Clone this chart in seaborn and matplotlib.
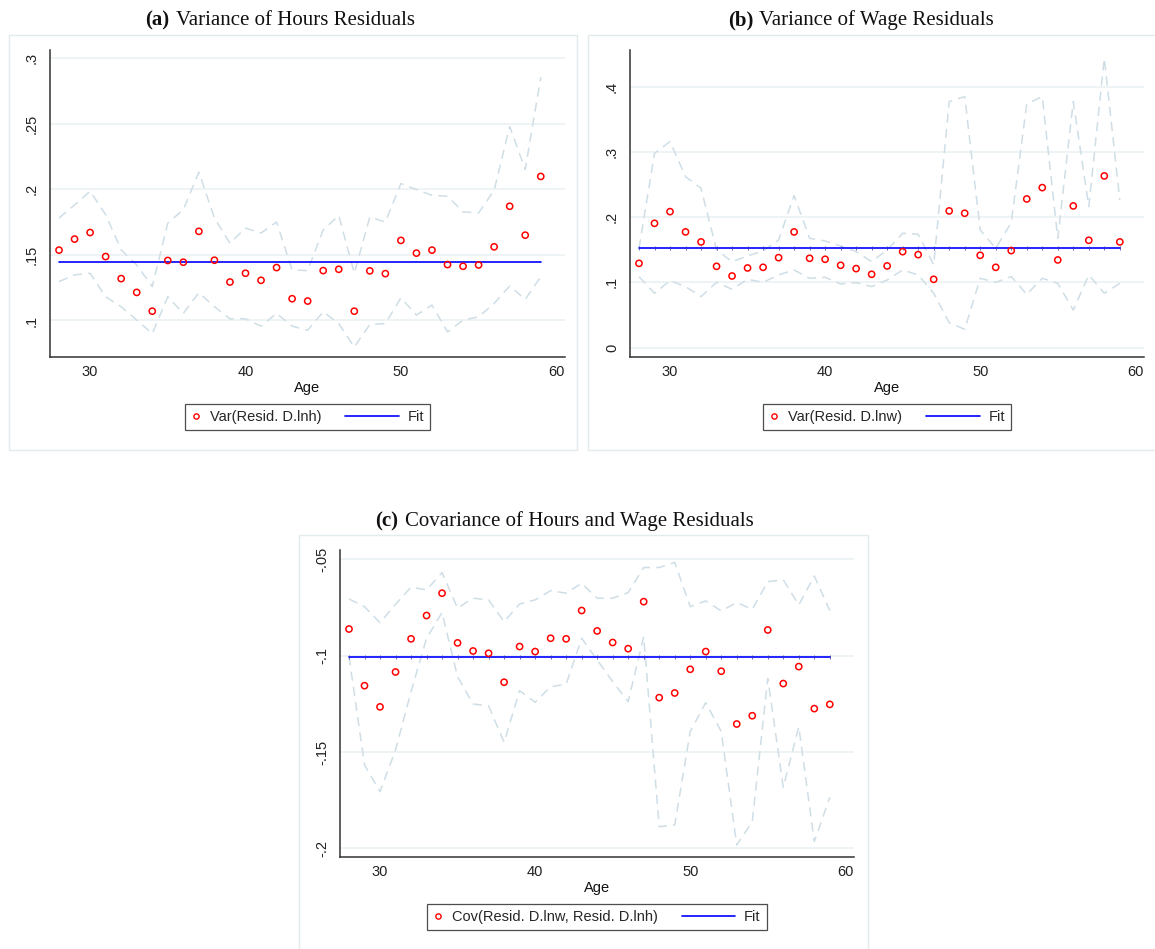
import numpy as np
import pandas as pd
import matplotlib
matplotlib.use("Agg")
import matplotlib.pyplot as plt
import seaborn as sns
from matplotlib.lines import Line2D
from matplotlib.legend_handler import HandlerBase
from matplotlib.patches import Rectangle

# ---------------- data ----------------
ages = list(range(28, 60))

var_h = [0.1536, 0.162, 0.167, 0.1487, 0.1319, 0.1214, 0.1071, 0.1457, 0.1444, 0.1679, 0.1459, 0.1293,
         0.136, 0.1306, 0.1403, 0.1166, 0.1148, 0.138, 0.139, 0.1071, 0.1378, 0.1357, 0.161, 0.1513,
         0.1536, 0.1426, 0.1413, 0.1423, 0.1561, 0.187, 0.165, 0.2097]
hi_h = [0.178, 0.188, 0.1985, 0.1806, 0.1538, 0.1423, 0.1258, 0.1742, 0.1844, 0.213, 0.178, 0.1589,
        0.1704, 0.1666, 0.175, 0.1385, 0.138, 0.169, 0.180, 0.136, 0.1788, 0.175, 0.2043, 0.1997,
        0.1954, 0.1946, 0.1827, 0.1819, 0.1992, 0.2477, 0.215, 0.2852]
lo_h = [0.1296, 0.1347, 0.136, 0.1181, 0.1105, 0.1003, 0.090, 0.1181, 0.1054, 0.1212, 0.1105, 0.1013,
        0.1013, 0.0957, 0.1054, 0.0957, 0.0926, 0.1066, 0.0977, 0.0798, 0.0969, 0.0977, 0.1173, 0.1041,
        0.1117, 0.0913, 0.1003, 0.1028, 0.113, 0.1263, 0.116, 0.1334]
fit_h = 0.1444

var_w = [0.1292, 0.1905, 0.2084, 0.1773, 0.162, 0.1246, 0.1098, 0.1221, 0.1231, 0.1379, 0.1773, 0.1369,
         0.1354, 0.1262, 0.1211, 0.1124, 0.1252, 0.1471, 0.1425, 0.1047, 0.2095, 0.2059, 0.1415, 0.1231,
         0.1487, 0.2278, 0.2452, 0.1344, 0.2171, 0.1645, 0.2631, 0.162]
hi_w = [0.152, 0.2978, 0.3157, 0.262, 0.2442, 0.1497, 0.1318, 0.1405, 0.1481, 0.165, 0.233, 0.1676,
        0.1635, 0.1558, 0.1471, 0.1318, 0.1497, 0.1752, 0.1737, 0.1267, 0.377, 0.3847, 0.1803, 0.1522,
        0.1916, 0.3734, 0.3847, 0.1676, 0.377, 0.2161, 0.4434, 0.2263]
lo_w = [0.1088, 0.0833, 0.1027, 0.0935, 0.0782, 0.1001, 0.0894, 0.1047, 0.1001, 0.1114, 0.119, 0.1063,
        0.1078, 0.0976, 0.0996, 0.0935, 0.1037, 0.119, 0.1114, 0.0833, 0.0383, 0.0281, 0.1063, 0.1001,
        0.1088, 0.0817, 0.1063, 0.0986, 0.0577, 0.1114, 0.0833, 0.0986]
fit_w = 0.1527

cov_hw = [-0.0862, -0.1156, -0.1266, -0.1085, -0.0913, -0.0792, -0.0676, -0.0934, -0.0976, -0.0988, -0.1138,
          -0.0953, -0.0979, -0.091, -0.0913, -0.0766, -0.0872, -0.0932, -0.0964, -0.072, -0.1218, -0.1194,
          -0.1071, -0.0979, -0.1081, -0.1355, -0.1312, -0.0867, -0.1145, -0.1057, -0.1275, -0.1253]
hi_c = [-0.0706, -0.0746, -0.0829, -0.0734, -0.0645, -0.0659, -0.0569, -0.0754, -0.0702, -0.0711, -0.0824,
        -0.0732, -0.0711, -0.0663, -0.0676, -0.0625, -0.0702, -0.0702, -0.0673, -0.0543, -0.0543, -0.0516,
        -0.0746, -0.0716, -0.0768, -0.0725, -0.076, -0.0616, -0.0607, -0.0737, -0.0587, -0.0766]
lo_c = [-0.1005, -0.1567, -0.1706, -0.149, -0.1187, -0.091, -0.0777, -0.1109, -0.1251, -0.1261, -0.145,
        -0.1182, -0.1242, -0.1161, -0.1149, -0.091, -0.1022, -0.1135, -0.1239, -0.0901, -0.1888, -0.1879,
        -0.1394, -0.1244, -0.1394, -0.1983, -0.1862, -0.1118, -0.1683, -0.1369, -0.1965, -0.1735]
fit_c = -0.1009

xticks = [30, 40, 50, 60]
yticks_a = [0.1, 0.15, 0.2, 0.25, 0.3]
ylabels_a = [".1", ".15", ".2", ".25", ".3"]
yticks_b = [0, 0.1, 0.2, 0.3, 0.4]
ylabels_b = ["0", ".1", ".2", ".3", ".4"]
yticks_c = [-0.2, -0.15, -0.1, -0.05]
ylabels_c = ["-.2", "-.15", "-.1", "-.05"]

titles = [("(a)", "Variance of Hours Residuals"),
          ("(b)", "Variance of Wage Residuals"),
          ("(c)", "Covariance of Hours and Wage Residuals")]
leg_labels = ["Var(Resid. D.lnh)", "Var(Resid. D.lnw)", "Cov(Resid. D.lnw, Resid. D.lnh)"]

# ---------------- style ----------------
sns.set_style("white")
plt.rcParams["font.family"] = ["Liberation Sans", "DejaVu Sans"]

W, H = 1155, 949
fig = plt.figure(figsize=(W / 100, H / 100), dpi=100)

CI_COL = "#cfdee6"
GRID_COL = "#e9f1f3"


def px_axes(l, t, r, b):
    return fig.add_axes([l / W, 1 - b / H, (r - l) / W, (b - t) / H])


def box(l, t, r, b):
    fig.add_artist(Rectangle((l / W, 1 - b / H), (r - l) / W, (b - t) / H, transform=fig.transFigure,
                             fill=False, edgecolor="#e3eaec", linewidth=1.0, zorder=0))


class WideLine(HandlerBase):
    def __init__(self, extra):
        super().__init__()
        self.extra = extra

    def create_artists(self, legend, orig_handle, xdescent, ydescent, width, height, fontsize, trans):
        y = height / 2 - ydescent
        ln = Line2D([-xdescent - self.extra, -xdescent + width], [y, y],
                    color=orig_handle.get_color(), linewidth=orig_handle.get_linewidth())
        ln.set_transform(trans)
        return [ln]


def panel(rect, boxrect, pts, hi, lo, fit, yt, yl, ylim, title, tpos, leglabel, colsp, fitmarks):
    box(*boxrect)
    ax = px_axes(*rect)
    df = pd.DataFrame({"age": ages, "v": pts, "hi": hi, "lo": lo})
    for g in yt:
        ax.axhline(g, color=GRID_COL, linewidth=1.1, zorder=0)
    sns.lineplot(data=df, x="age", y="hi", ax=ax, color=CI_COL, linewidth=1.1,
                 linestyle=(0, (6, 4)), zorder=1)
    sns.lineplot(data=df, x="age", y="lo", ax=ax, color=CI_COL, linewidth=1.1,
                 linestyle=(0, (6, 4)), zorder=1)
    fdf = pd.DataFrame({"age": [ages[0], ages[-1]], "f": [fit, fit]})
    sns.lineplot(data=fdf, x="age", y="f", ax=ax, color="#0000ff", linewidth=1.2, zorder=2)
    if fitmarks:
        mdf = pd.DataFrame({"age": ages, "f": [fit] * len(ages)})
        sns.scatterplot(data=mdf, x="age", y="f", ax=ax, marker="|", s=6, color="#3030b0",
                        linewidth=0.5, zorder=2)
    sns.scatterplot(data=df, x="age", y="v", ax=ax, marker="o", s=20, facecolor="none",
                    edgecolor="#ff0000", linewidth=1.1, zorder=3)
    ax.set_xlim(27.42, 60.56)
    ax.set_ylim(*ylim)
    ax.set_xticks(xticks)
    ax.set_xticklabels([str(x) for x in xticks])
    ax.set_yticks(yt)
    ax.set_yticklabels(yl, rotation=90, va="center")
    ax.tick_params(axis="both", direction="out", length=4.5, width=0.9, color="#222222",
                   labelsize=10.5, colors="#222222")
    ax.tick_params(axis="x", pad=1.5)
    ax.tick_params(axis="y", pad=3.5)
    for s in ["top", "right"]:
        ax.spines[s].set_visible(False)
    for s in ["left", "bottom"]:
        ax.spines[s].set_color("#333333")
        ax.spines[s].set_linewidth(1.1)
    ax.set_xlabel("Age", fontsize=10.5, labelpad=1.5, color="#111111")
    ax.set_ylabel("")
    ax.grid(False)

    # legend
    h_pt = Line2D([], [], linestyle="none", marker="o", markersize=3.8, markerfacecolor="none",
                  markeredgecolor="#ff0000", markeredgewidth=1.0)
    h_fit = Line2D([], [], color="#0000ff", linewidth=1.2)
    cx = (rect[0] + rect[2]) / 2
    cy = rect[3] + 60
    leg = fig.legend([h_pt, h_fit], [leglabel, "Fit"], loc="center", bbox_to_anchor=(cx / W, 1 - cy / H),
                     ncol=2, frameon=True, fancybox=False, edgecolor="#222222", fontsize=10.5,
                     handlelength=0.7, handletextpad=0.6, columnspacing=colsp, borderpad=0.4,
                     handler_map={h_fit: WideLine(31)})
    leg.get_frame().set_linewidth(0.9)

    # title: bold label + regular text
    tx, ty, gap = tpos
    fig.text(tx / W, 1 - ty / H, title[0], fontsize=15, fontweight="bold",
             family=["Liberation Serif", "DejaVu Serif"], ha="left", va="baseline", color="#111111")
    fig.text((tx + gap) / W, 1 - ty / H, title[1], fontsize=15,
             family=["Liberation Serif", "DejaVu Serif"], ha="left", va="baseline", color="#111111")
    return ax


panel((50, 50, 565, 357), (9, 35, 577, 450), var_h, hi_h, lo_h, fit_h, yticks_a, ylabels_a,
      (0.0722, 0.306), titles[0], (145, 25, 31), leg_labels[0], 4.6, False)
panel((630, 50, 1144, 357), (588, 35, 1160, 450), var_w, hi_w, lo_w, fit_w, yticks_b, ylabels_b,
      (-0.0143, 0.456), titles[1], (728, 25, 31), leg_labels[1], 4.6, True)
panel((340, 550, 854, 857), (299, 535, 868, 960), cov_hw, hi_c, lo_c, fit_c, yticks_c, ylabels_c,
      (-0.2045, -0.0452), titles[2], (375, 526, 30), leg_labels[2], 4.6, True)

fig.savefig("out.png", dpi=100, facecolor="white")
